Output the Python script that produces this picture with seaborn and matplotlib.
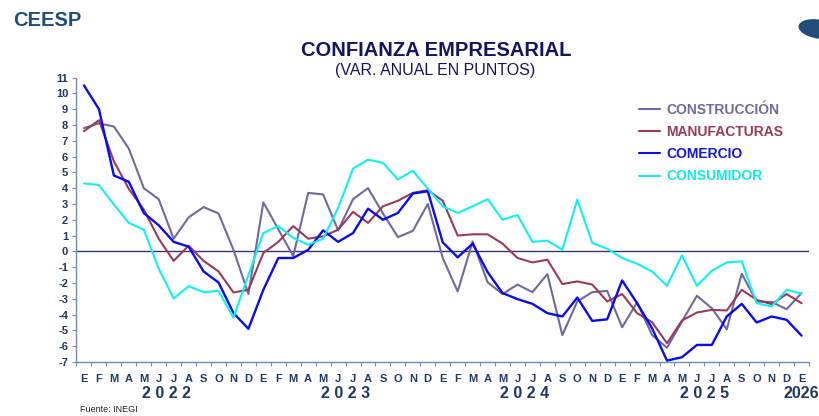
import numpy as np
import pandas as pd
import matplotlib
matplotlib.use("Agg")
import matplotlib.pyplot as plt
import seaborn as sns
from matplotlib.transforms import blended_transform_factory
from matplotlib.patches import Ellipse

# ---------------- data (Jan 2022 .. Jan 2026) ----------------
month_letters = ["E", "F", "M", "A", "M", "J", "J", "A", "S", "O", "N", "D"] * 4 + ["E"]
year_labels = ["2 0 2 2", "2 0 2 3", "2 0 2 4", "2 0 2 5", "2026"]
year_positions = [5.5, 17.5, 29.5, 41.5, 48]

construccion = [7.8, 8.1, 7.9, 6.5, 4.0, 3.3, 0.8, 2.15, 2.8, 2.4, 0.1, -2.7,
                3.1, 1.4, -0.3, 3.7, 3.6, 1.33, 3.3, 4.0, 2.4, 0.9, 1.3, 3.0,
                -0.42, -2.54, 0.63, -1.95, -2.7, -2.1, -2.58, -1.44, -5.3, -3.17, -2.58, -2.5,
                -4.8, -3.23, -5.29, -6.1, -4.44, -2.81, -3.6, -4.93, -1.42, -3.17, -3.2, -3.66,
                -2.64]
manufacturas = [7.6, 8.3, 5.7, 3.95, 2.65, 0.8, -0.6, 0.36, -0.6, -1.27, -2.6, -2.43,
                -0.1, 0.6, 1.6, 0.8, 0.95, 1.37, 2.5, 1.8, 2.85, 3.2, 3.7, 3.87,
                3.2, 1.0, 1.08, 1.08, 0.49, -0.42, -0.7, -0.53, -2.07, -1.9, -2.1, -3.17,
                -2.7, -3.91, -4.48, -5.81, -4.38, -3.87, -3.7, -3.74, -2.43, -3.07, -3.34, -2.7,
                -3.28]
comercio = [10.5, 9.0, 4.8, 4.4, 2.43, 1.65, 0.6, 0.3, -1.27, -1.97, -3.9, -4.9,
            -2.43, -0.42, -0.42, 0.1, 1.33, 0.6, 1.16, 2.7, 2.0, 2.43, 3.66, 3.8,
            0.57, -0.38, 0.49, -1.31, -2.64, -3.02, -3.32, -3.91, -4.12, -2.92, -4.4, -4.3,
            -1.84, -3.28, -4.86, -6.91, -6.7, -5.92, -5.92, -4.12, -3.32, -4.5, -4.12, -4.33,
            -5.33]
consumidor = [4.3, 4.2, 2.96, 1.8, 1.37, -1.1, -2.98, -2.2, -2.58, -2.5, -4.2, -1.5,
              1.16, 1.6, 0.85, 0.42, 0.8, 2.75, 5.24, 5.8, 5.6, 4.55, 5.1, 3.97,
              2.85, 2.43, 2.85, 3.3, 2.0, 2.3, 0.6, 0.68, 0.1, 3.28, 0.53, 0.17,
              -0.42, -0.78, -1.27, -2.18, -0.25, -2.18, -1.23, -0.7, -0.63, -3.28, -3.49, -2.43,
              -2.68]

series_names = ["CONSTRUCCIÓN", "MANUFACTURAS", "COMERCIO", "CONSUMIDOR"]
series_values = [construccion, manufacturas, comercio, consumidor]
line_colors = ["#6E6A9C", "#983A5C", "#0A0AF5", "#10F0F0"]
text_colors = ["#6E6A9C", "#983A5C", "#1414E6", "#12E8E8"]

rows = []
for name, vals in zip(series_names, series_values):
    for i, v in enumerate(vals):
        rows.append({"mes": i, "valor": v, "serie": name})
df = pd.DataFrame(rows)

# ---------------- style ----------------
sns.set_theme(style="white")
plt.rcParams["font.family"] = ["Liberation Sans", "DejaVu Sans"]

navy = "#1F3864"
spine_c = "#6C8DB8"

fig = plt.figure(figsize=(8.2, 4.16), dpi=100)
ax = fig.add_axes([76.5 / 820, 1 - 362 / 416, (809 - 76.5) / 820, (362 - 77.5) / 416])

ax.axhline(0, color="#34346E", lw=1.0, zorder=1)
sns.lineplot(data=df, x="mes", y="valor", hue="serie", hue_order=series_names,
             palette=dict(zip(series_names, line_colors)), linewidth=1.5, ax=ax, zorder=3)
for ln, name in zip(ax.lines[1:5], series_names):
    if name == "COMERCIO":
        ln.set_linewidth(1.7)

ax.set_xlim(-0.5, 48.5)
ax.set_ylim(-7, 11)
ax.set_xlabel("")
ax.set_ylabel("")

for s in ["top", "right"]:
    ax.spines[s].set_visible(False)
for s in ["left", "bottom"]:
    ax.spines[s].set_color(spine_c)
    ax.spines[s].set_linewidth(1.0)

ax.set_yticks(range(-7, 12))
ax.set_yticklabels([str(v) for v in range(-7, 12)], fontsize=8, fontweight="bold", color=navy)
ax.tick_params(axis="y", length=3, width=0.8, color=spine_c, pad=3, direction="out", left=True)

ax.set_xticks(range(49))
ax.set_xticklabels(month_letters, fontsize=8, fontweight="bold", color=navy)
ax.set_xticks(np.arange(-0.5, 49, 1), minor=True)
ax.tick_params(axis="x", which="major", length=0, pad=9)
ax.tick_params(axis="x", which="minor", length=3, width=0.8, color=spine_c, direction="out", bottom=True)

tr = blended_transform_factory(ax.transData, fig.transFigure)
for lab, pos in zip(year_labels, year_positions):
    ax.text(pos, 1 - 393 / 416, lab, transform=tr, ha="center", va="center",
            fontsize=11.5, fontweight="bold", color=navy)

leg = ax.legend(title=None, loc="upper left", bbox_to_anchor=(627 / 820, 1 - 90 / 416),
                bbox_transform=fig.transFigure, frameon=False, handlelength=1.5,
                handletextpad=0.4, labelspacing=0.6,
                prop={"weight": "bold", "size": 10}, labelcolor=text_colors)
for h in leg.get_lines():
    h.set_linewidth(1.5)

# titles
fig.text(436 / 820, 1 - 50 / 416, "CONFIANZA EMPRESARIAL", ha="center", va="center",
         fontsize=14.5, fontweight="bold", color="#141464",
         family=["Liberation Sans Narrow", "Liberation Sans", "DejaVu Sans"])
fig.text(435 / 820, 1 - 71 / 416, "(VAR. ANUAL EN PUNTOS)", ha="center", va="center",
         fontsize=11.5, color="#141464",
         family=["Liberation Sans Narrow", "Liberation Sans", "DejaVu Sans"])
fig.text(13 / 820, 1 - 20 / 416, "CEESP", ha="left", va="center",
         fontsize=14.5, fontweight="bold", color="#1F4E79")
fig.text(80 / 820, 1 - 410 / 416, "Fuente: INEGI", ha="left", va="center",
         fontsize=6.5, color="#222222")

# logo mark (top-right)
lx, ly = 818 / 820, 1 - 29 / 416
fig.patches.append(Ellipse((lx, ly), 34 / 820, 22 / 416, angle=45, transform=fig.transFigure,
                           facecolor="#1F4E79", edgecolor="none"))

fig.savefig("out.png", dpi=100)
